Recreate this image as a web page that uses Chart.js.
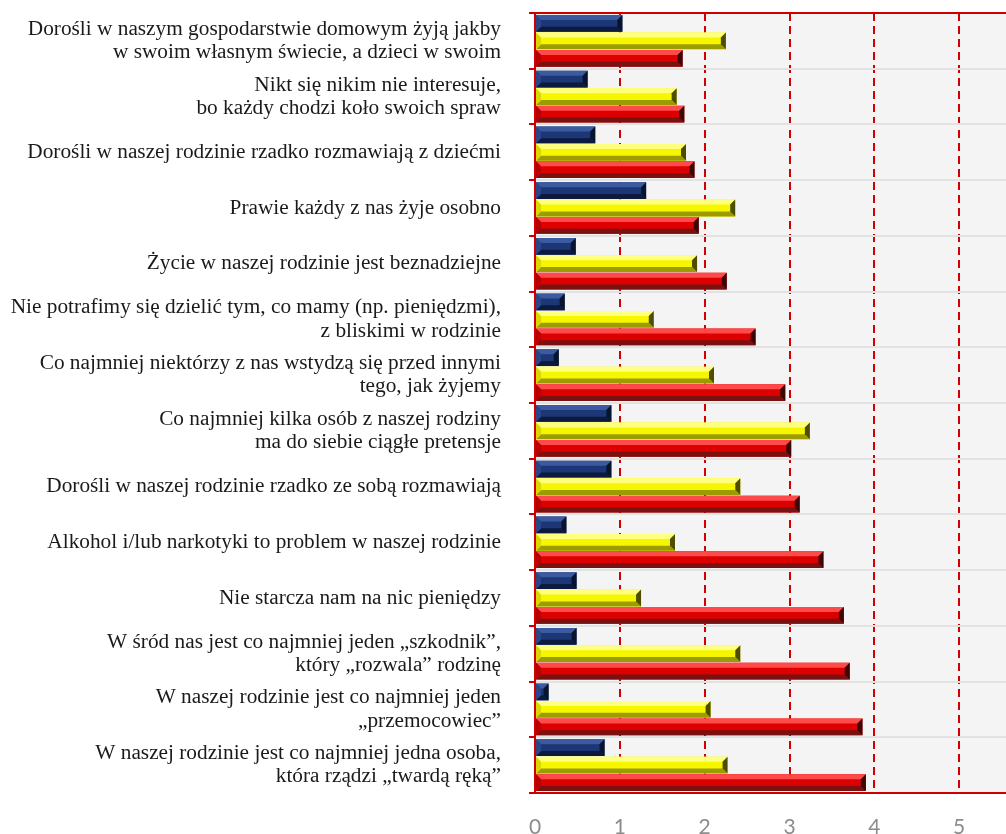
<!DOCTYPE html>
<html>
<head>
<meta charset="utf-8">
<script src="https://cdn.jsdelivr.net/npm/chart.js@4/dist/chart.umd.min.js"></script>
<style>
  html, body { margin: 0; padding: 0; background: #fff; overflow: hidden; }
  #wrap { width: 1006px; height: 834px; overflow: hidden; position: relative; }
  #wrap canvas { position: absolute; left: 0; top: 0; }
</style>
</head>
<body>
<div id="wrap"><canvas id="chart" width="1050" height="834"></canvas></div>
<script>
const categories = [
  ['Dorośli w naszym gospodarstwie domowym żyją jakby', 'w swoim własnym świecie, a dzieci w swoim'],
  ['Nikt się nikim nie interesuje,', 'bo każdy chodzi koło swoich spraw'],
  'Dorośli w naszej rodzinie rzadko rozmawiają z dziećmi',
  'Prawie każdy z nas żyje osobno',
  'Życie w naszej rodzinie jest beznadziejne',
  ['Nie potrafimy się dzielić tym, co mamy (np. pieniędzmi),', 'z bliskimi w rodzinie'],
  ['Co najmniej niektórzy z nas wstydzą się przed innymi', 'tego, jak żyjemy'],
  ['Co najmniej kilka osób z naszej rodziny', 'ma do siebie ciągłe pretensje'],
  'Dorośli w naszej rodzinie rzadko ze sobą rozmawiają',
  'Alkohol i/lub narkotyki to problem w naszej rodzinie',
  'Nie starcza nam na nic pieniędzy',
  ['W śród nas jest co najmniej jeden „szkodnik”,', 'który „rozwala” rodzinę'],
  ['W naszej rodzinie jest co najmniej jeden', '„przemocowiec”'],
  ['W naszej rodzinie jest co najmniej jedna osoba,', 'która rządzi „twardą ręką”']
];

const seriesNavy   = [1.03, 0.62, 0.71, 1.31, 0.48, 0.35, 0.28, 0.90, 0.90, 0.37, 0.49, 0.49, 0.16, 0.82];
const seriesYellow = [2.25, 1.67, 1.78, 2.36, 1.91, 1.40, 2.11, 3.24, 2.42, 1.65, 1.25, 2.42, 2.07, 2.27];
const seriesRed    = [1.74, 1.76, 1.88, 1.93, 2.26, 2.60, 2.95, 3.02, 3.12, 3.40, 3.64, 3.71, 3.86, 3.90];

const xTicks = [0, 1, 2, 3, 4, 5, 6];

// bevel colours per series: light top, dark bottom, end cap
const bevels = [
  { top: '#3b5aa0', bottom: '#0b1a3e', end: '#08142e', left: '#2a4687' },
  { top: '#ffff80', bottom: '#9c9c00', end: '#4d4d00', left: '#d8d800' },
  { top: '#ff4a4a', bottom: '#7a1010', end: '#3d0606', left: '#b80000' }
];

const bevelPlugin = {
  id: 'bevel',
  beforeDraw(chart) {
    const { ctx, chartArea: a } = chart;
    ctx.save();
    ctx.fillStyle = '#f4f4f4';
    ctx.fillRect(a.left, a.top, a.right - a.left, a.bottom - a.top);
    ctx.restore();
  },
  afterDatasetsDraw(chart) {
    const ctx = chart.ctx;
    chart.data.datasets.forEach((ds, i) => {
      const meta = chart.getDatasetMeta(i);
      const c = bevels[i];
      meta.data.forEach(bar => {
        const p = bar.getProps(['x', 'y', 'base', 'height'], true);
        const x0 = p.base, x1 = p.x, t = p.y - p.height / 2, b = p.y + p.height / 2;
        const w = x1 - x0;
        const bv = Math.min(5, w / 2, p.height / 3);
        ctx.save();
        ctx.fillStyle = c.top;
        ctx.beginPath();
        ctx.moveTo(x0, t); ctx.lineTo(x1, t); ctx.lineTo(x1 - bv, t + bv); ctx.lineTo(x0 + bv, t + bv); ctx.closePath(); ctx.fill();
        ctx.fillStyle = c.bottom;
        ctx.beginPath();
        ctx.moveTo(x0, b); ctx.lineTo(x1, b); ctx.lineTo(x1 - bv, b - bv); ctx.lineTo(x0 + bv, b - bv); ctx.closePath(); ctx.fill();
        ctx.fillStyle = c.end;
        ctx.beginPath();
        ctx.moveTo(x1, t); ctx.lineTo(x1, b); ctx.lineTo(x1 - bv, b - bv); ctx.lineTo(x1 - bv, t + bv); ctx.closePath(); ctx.fill();
        ctx.fillStyle = c.left;
        ctx.beginPath();
        ctx.moveTo(x0, t); ctx.lineTo(x0, b); ctx.lineTo(x0 + bv, b - bv); ctx.lineTo(x0 + bv, t + bv); ctx.closePath(); ctx.fill();
        ctx.restore();
      });
    });
    // red top frame line
    const a = chart.chartArea;
    ctx.save();
    ctx.strokeStyle = '#cc0000';
    ctx.lineWidth = 2;
    ctx.beginPath();
    ctx.moveTo(a.left - 6, a.top);
    ctx.lineTo(a.right + 20, a.top);
    ctx.stroke();
    ctx.restore();
  }
};

new Chart(document.getElementById('chart'), {
  type: 'bar',
  data: {
    labels: categories,
    datasets: [
      { data: seriesNavy, backgroundColor: '#1c3676' },
      { data: seriesYellow, backgroundColor: '#f6f600' },
      { data: seriesRed, backgroundColor: '#dd0000' }
    ]
  },
  options: {
    indexAxis: 'y',
    responsive: false,
    animation: false,
    layout: { padding: { top: 13, right: 0, left: 0, bottom: 0 } },
    categoryPercentage: 0.94,
    barPercentage: 0.96,
    plugins: { legend: { display: false }, tooltip: { enabled: false } },
    scales: {
      x: {
        min: 0,
        max: 6,
        afterBuildTicks(scale) {
          scale.ticks = xTicks.map(v => ({ value: v }));
        },
        afterFit(scale) {
          scale.height = 41;
          scale.paddingLeft = 0;
          scale.paddingRight = 6;
        },
        grid: {
          color: '#d40000',
          lineWidth: 2,
          drawTicks: false
        },
        border: { display: true, color: '#cc0000', width: 2, dash: [8, 5] },
        ticks: {
          color: '#8c8c8c',
          padding: 22,
          font: { family: 'Lato', size: 21 }
        }
      },
      y: {
        afterFit(scale) {
          scale.width = 535;
          scale.paddingTop = 0;
          scale.paddingBottom = 0;
        },
        grid: {
          color: '#e2e2e2',
          lineWidth: 2,
          tickColor: '#cc0000',
          tickLength: 6
        },
        border: { display: true, color: '#cc0000', width: 2 },
        ticks: {
          color: '#1a1a1a',
          padding: 28,
          font: { family: '"Liberation Serif", "Times New Roman", serif', size: 21.3, lineHeight: 1.09 }
        }
      }
    }
  },
  plugins: [bevelPlugin]
});
</script>
</body>
</html>
